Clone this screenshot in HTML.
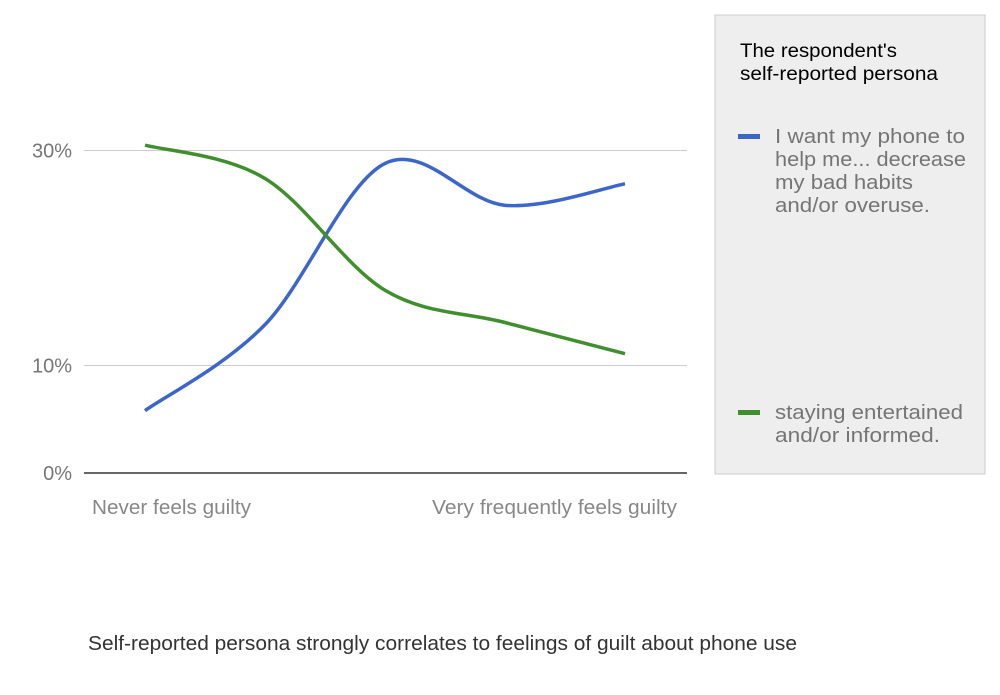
<!DOCTYPE html>
<html><head><meta charset="utf-8"><style>
body{margin:0;background:#fff;width:1000px;height:690px;overflow:hidden;font-family:"Liberation Sans",sans-serif}
</style></head><body>
<svg width="1000" height="690">
<g id="grid"></g>
<g id="series"></g>
<rect x="715" y="15" width="270" height="459" fill="#eeeeee" stroke="#cccccc"/>
<text x="740" y="57" font-size="19" fill="#000" textLength="157" lengthAdjust="spacingAndGlyphs">The respondent's</text>
<text x="740" y="80" font-size="19" fill="#000" textLength="198" lengthAdjust="spacingAndGlyphs">self-reported persona</text>
<rect x="738" y="134" width="22" height="5" fill="#3b66cc"/>
<g font-size="20" fill="#757575" lengthAdjust="spacingAndGlyphs">
<text x="775" y="143" textLength="190" lengthAdjust="spacingAndGlyphs">I want my phone to</text><text x="775" y="166" textLength="191" lengthAdjust="spacingAndGlyphs">help me... decrease</text><text x="775" y="189" textLength="138" lengthAdjust="spacingAndGlyphs">my bad habits</text><text x="775" y="212" textLength="155" lengthAdjust="spacingAndGlyphs">and/or overuse.</text></g>
<rect x="738" y="410" width="22" height="5" fill="#3f8f2c"/>
<g font-size="20" fill="#757575">
<text x="775" y="419" textLength="188" lengthAdjust="spacingAndGlyphs">staying entertained</text><text x="775" y="442" textLength="165" lengthAdjust="spacingAndGlyphs">and/or informed.</text></g>
<text x="92" y="514" font-size="20" fill="#888" textLength="159" lengthAdjust="spacingAndGlyphs">Never feels guilty</text>
<text x="432" y="514" font-size="20" fill="#888" textLength="245" lengthAdjust="spacingAndGlyphs">Very frequently feels guilty</text>
<text x="88" y="650" font-size="20" fill="#333" textLength="709" lengthAdjust="spacingAndGlyphs">Self-reported persona strongly correlates to feelings of guilt about phone use</text>
</svg>
<script>
const categories=[0,1,2,3,4];
const blueValues=[5.8,13.8,28.8,24.9,26.9];
const greenValues=[30.5,27.4,17.0,14.0,11.1];
const yTicks=[0,10,30];
const tickLabels=["0%","10%","30%"];
const NS="http://www.w3.org/2000/svg";
const xs=i=>145+i*120;
const ys=v=>473-v*10.75;
const grid=document.getElementById('grid');
yTicks.forEach((t,i)=>{
 const l=document.createElementNS(NS,'line');
 l.setAttribute('x1',84);l.setAttribute('x2',687);l.setAttribute('y1',ys(t));l.setAttribute('y2',ys(t));
 l.setAttribute('stroke',t===0?'#333':'#ccc');l.setAttribute('stroke-width',t===0?1.5:1);
 
 
 grid.appendChild(l);
 const tx=document.createElementNS(NS,'text');
 tx.setAttribute('x',72);tx.setAttribute('y',ys(t)+7);tx.setAttribute('text-anchor','end');
 tx.setAttribute('font-size','20');tx.setAttribute('fill','#777');tx.textContent=tickLabels[i];
 
 
 grid.appendChild(tx);
});
function path(vals){
 const p=vals.map((v,i)=>[xs(categories[i]),ys(v)]);
 let d='M'+p[0].join(',');
 for(let i=0;i<p.length-1;i++){
  const p0=p[i-1]||p[i],p1=p[i],p2=p[i+1],p3=p[i+2]||p2,k=1/6;
  d+=` C${p1[0]+(p2[0]-p0[0])*k},${p1[1]+(p2[1]-p0[1])*k} ${p2[0]-(p3[0]-p1[0])*k},${p2[1]-(p3[1]-p1[1])*k} ${p2[0]},${p2[1]}`;
 }
 return d;
}
const g=document.getElementById('series');
[[blueValues,'#3b66cc','series-blue-line'],[greenValues,'#3f8f2c','series-green-line']].forEach(s=>{
 const el=document.createElementNS(NS,'path');
 el.setAttribute('d',path(s[0]));el.setAttribute('fill','none');el.setAttribute('stroke',s[1]);el.setAttribute('stroke-width',3.5);
 
 
 g.appendChild(el);
});
</script>
</body></html>
